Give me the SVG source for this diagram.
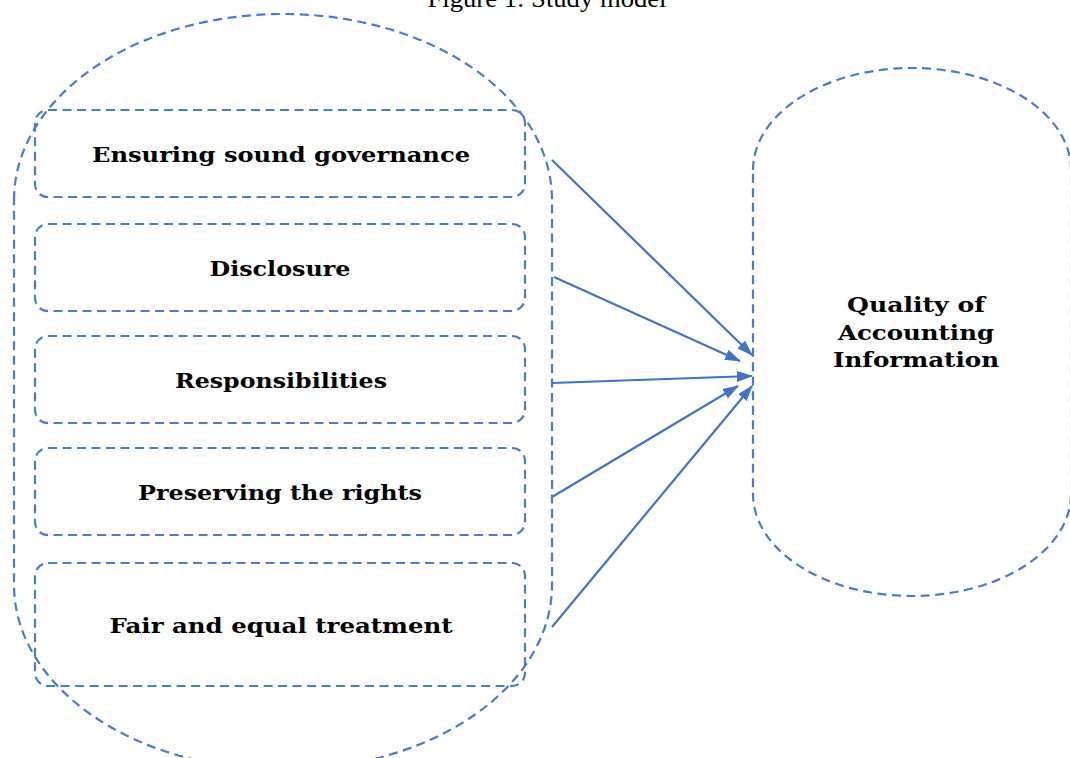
<svg xmlns="http://www.w3.org/2000/svg" width="1070" height="758" viewBox="0 0 1070 758">
<style>
.dash{fill:none;stroke:#4a7bd0;stroke-width:2.2;stroke-dasharray:9 5.5}
.lbl{font-family:"DejaVu Serif","Liberation Serif",serif;font-weight:bold;font-size:21px;fill:#000;text-anchor:middle}
.conn line{stroke:#4472c4;stroke-width:2.2;marker-end:url(#ah)}
.title{font-family:"Liberation Serif","Times New Roman",serif;font-size:25px;fill:#000;text-anchor:middle}
</style>
<defs>
<marker id="ah" viewBox="0 0 16 11" refX="15" refY="5.5" markerWidth="16" markerHeight="11" markerUnits="userSpaceOnUse" orient="auto">
<path d="M0,0 L16,5.5 L0,11 Z" fill="#4472c4"/>
</marker>
</defs>
<rect width="1070" height="758" fill="#fff"/>
<text class="title" x="547" y="7" textLength="239" lengthAdjust="spacingAndGlyphs">Figure 1: Study model</text>
<g id="group-left">
<path class="dash" d="M14,200 A269,186 0 0 1 283,14 A269,186 0 0 1 552,200 L552,585 A269,185 0 0 1 283,770 A269,185 0 0 1 14,585 Z"/>
</g>
<g id="node-governance">
<rect class="dash" x="35" y="110" width="490" height="87" rx="13"/>
<text class="lbl" x="281" y="162" textLength="378" lengthAdjust="spacingAndGlyphs">Ensuring sound governance</text>
</g>
<g id="node-disclosure">
<rect class="dash" x="35" y="224" width="490" height="87" rx="13"/>
<text class="lbl" x="280" y="276" textLength="141" lengthAdjust="spacingAndGlyphs">Disclosure</text>
</g>
<g id="node-responsibilities">
<rect class="dash" x="35" y="336" width="490" height="87" rx="13"/>
<text class="lbl" x="281" y="388" textLength="212" lengthAdjust="spacingAndGlyphs">Responsibilities</text>
</g>
<g id="node-rights">
<rect class="dash" x="35" y="448" width="490" height="87" rx="13"/>
<text class="lbl" x="280" y="500" textLength="284" lengthAdjust="spacingAndGlyphs">Preserving the rights</text>
</g>
<g id="node-fair">
<rect class="dash" x="35" y="563" width="490" height="123" rx="13"/>
<text class="lbl" x="281" y="633" textLength="343" lengthAdjust="spacingAndGlyphs">Fair and equal treatment</text>
</g>
<g id="node-quality">
<path class="dash" d="M753,170 A159,102 0 0 1 912,68 A159,102 0 0 1 1071,170 L1071,494 A159,102 0 0 1 912,596 A159,102 0 0 1 753,494 Z"/>
<text class="lbl" x="916" y="312" font-size="22" textLength="138" lengthAdjust="spacingAndGlyphs">Quality of</text>
<text class="lbl" x="916" y="340" font-size="22" textLength="156" lengthAdjust="spacingAndGlyphs">Accounting</text>
<text class="lbl" x="916" y="367" font-size="22" textLength="166" lengthAdjust="spacingAndGlyphs">Information</text>
</g>
<g id="connectors" class="conn">
<line x1="552" y1="160" x2="752" y2="355"/>
<line x1="554" y1="277" x2="740" y2="361"/>
<line x1="552" y1="383" x2="752" y2="376"/>
<line x1="552" y1="497" x2="738" y2="386"/>
<line x1="552" y1="627" x2="752" y2="386"/>
</g>
</svg>
